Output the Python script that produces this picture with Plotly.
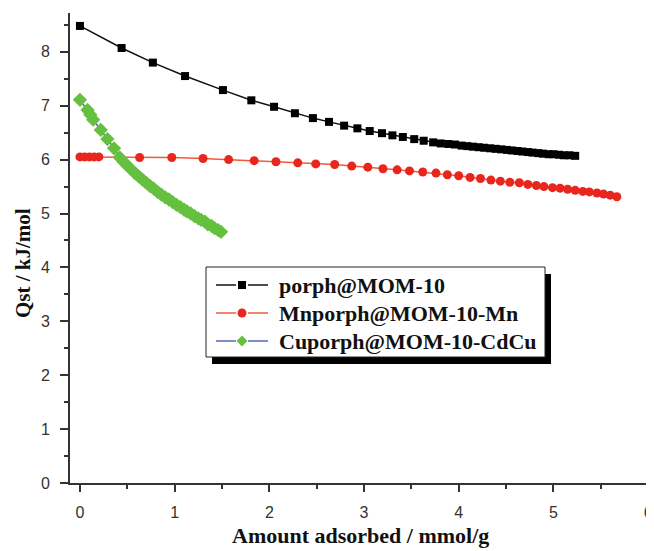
import plotly.graph_objects as go

# porph@MOM-10 (black squares)
porph_x = [0.00, 0.44, 0.77, 1.11, 1.51, 1.81, 2.05, 2.27, 2.46, 2.63, 2.79, 2.93, 3.06, 3.19,
           3.30, 3.41, 3.53, 3.63, 3.73, 3.81, 3.89, 3.96, 4.03, 4.09, 4.15, 4.21, 4.27, 4.33,
           4.39, 4.45, 4.51, 4.56, 4.62, 4.67, 4.73, 4.78, 4.84, 4.89, 4.95, 5.00, 5.06, 5.11,
           5.17, 5.23]
porph_y = [8.48, 8.07, 7.80, 7.55, 7.29, 7.10, 6.98, 6.86, 6.77, 6.70, 6.63, 6.58, 6.53, 6.49,
           6.45, 6.42, 6.38, 6.35, 6.32, 6.30, 6.29, 6.28, 6.26, 6.25, 6.24, 6.23, 6.22, 6.21,
           6.20, 6.19, 6.18, 6.17, 6.16, 6.15, 6.14, 6.13, 6.12, 6.11, 6.10, 6.10, 6.09, 6.08,
           6.08, 6.07]

# Mnporph@MOM-10-Mn (red circles)
mn_x = [0.00, 0.05, 0.10, 0.15, 0.20, 0.63, 0.97, 1.30, 1.57, 1.84, 2.07, 2.30, 2.49, 2.69,
        2.87, 3.04, 3.20, 3.35, 3.48, 3.62, 3.76, 3.88, 4.00, 4.12, 4.23, 4.34, 4.44, 4.54,
        4.64, 4.73, 4.82, 4.90, 4.99, 5.07, 5.15, 5.23, 5.31, 5.38, 5.46, 5.53, 5.60, 5.67]
mn_y = [6.05, 6.05, 6.05, 6.05, 6.05, 6.04, 6.04, 6.02, 6.00, 5.98, 5.96, 5.94, 5.92, 5.91,
        5.88, 5.86, 5.83, 5.81, 5.79, 5.77, 5.75, 5.72, 5.70, 5.67, 5.65, 5.62, 5.60, 5.58,
        5.57, 5.54, 5.52, 5.50, 5.48, 5.47, 5.45, 5.43, 5.41, 5.40, 5.38, 5.36, 5.34, 5.31]

# Cuporph@MOM-10-CdCu (green diamonds)
cu_x = [0.00, 0.08, 0.11, 0.14, 0.22, 0.29, 0.36, 0.42, 0.46, 0.50, 0.54, 0.58, 0.62, 0.66,
        0.70, 0.74, 0.78, 0.82, 0.86, 0.90, 0.94, 0.98, 1.02, 1.06, 1.10, 1.13, 1.17, 1.21,
        1.25, 1.28, 1.32, 1.35, 1.39, 1.42, 1.46, 1.49]
cu_y = [7.11, 6.92, 6.83, 6.74, 6.55, 6.38, 6.21, 6.04, 5.96, 5.89, 5.82, 5.75, 5.69, 5.63,
        5.57, 5.51, 5.46, 5.40, 5.35, 5.30, 5.26, 5.21, 5.16, 5.12, 5.07, 5.04, 5.00, 4.95,
        4.91, 4.88, 4.85, 4.80, 4.77, 4.73, 4.69, 4.66]

names = ["porph@MOM-10", "Mnporph@MOM-10-Mn", "Cuporph@MOM-10-CdCu"]
x_ticks = [0, 1, 2, 3, 4, 5, 6]
y_ticks = [0, 1, 2, 3, 4, 5, 6, 7, 8]

# styles
line_colors = ["#111111", "#f05a3a", "#5a64c0"]
marker_colors = ["#000000", "#e8261e", "#66c040"]
marker_symbols = ["square", "circle", "diamond"]
marker_sizes = [8, 9, 11]

fig = go.Figure()
series = [(porph_x, porph_y), (mn_x, mn_y), (cu_x, cu_y)]
for i, (xs, ys) in enumerate(series):
    fig.add_trace(go.Scatter(x=xs, y=ys, mode="lines+markers", name=names[i],
                             showlegend=False,
                             line=dict(color=line_colors[i], width=1.5),
                             marker=dict(symbol=marker_symbols[i], size=marker_sizes[i],
                                         color=marker_colors[i])))

SERIF = "Liberation Serif"
axis_font = dict(family="Liberation Sans", size=16, color="#333333")

# Plot area on screen: x 70..650, y 13..483 (page body adds 8 px offset)
PX0, PX1, PY0, PY1 = 70.0, 650.0, 13.0, 483.0


def px(sx):
    return (sx - PX0) / (PX1 - PX0)


def py(sy):
    return (PY1 - sy) / (PY1 - PY0)


# framed legend with drop shadow (Origin style)
box = (206, 267, 545, 357)
shadow_off = (6, 7)
row_y = [285, 313, 341]
seg = [(216, 236), (248, 268)]
sym_x = 242
text_x = 277

shapes = [
    dict(type="rect", xref="paper", yref="paper",
         x0=px(box[0] + shadow_off[0]), x1=px(box[2] + shadow_off[0]),
         y0=py(box[3] + shadow_off[1]), y1=py(box[1] + shadow_off[1]),
         fillcolor="black", line=dict(width=0), layer="above"),
    dict(type="rect", xref="paper", yref="paper",
         x0=px(box[0]), x1=px(box[2]), y0=py(box[3]), y1=py(box[1]),
         fillcolor="white", line=dict(color="#222222", width=1), layer="above"),
]
annotations = []
for i, ry in enumerate(row_y):
    for a, b in seg:
        shapes.append(dict(type="line", xref="paper", yref="paper",
                           x0=px(a), x1=px(b), y0=py(ry), y1=py(ry),
                           line=dict(color=line_colors[i], width=1.5), layer="above"))
    h = marker_sizes[i] / 2.0
    if marker_symbols[i] == "square":
        shapes.append(dict(type="rect", xref="paper", yref="paper",
                           x0=px(sym_x - h), x1=px(sym_x + h), y0=py(ry + h), y1=py(ry - h),
                           fillcolor=marker_colors[i], line=dict(width=0), layer="above"))
    elif marker_symbols[i] == "circle":
        shapes.append(dict(type="circle", xref="paper", yref="paper",
                           x0=px(sym_x - h), x1=px(sym_x + h), y0=py(ry + h), y1=py(ry - h),
                           fillcolor=marker_colors[i], line=dict(width=0), layer="above"))
    else:
        path = "M{},{} L{},{} L{},{} L{},{} Z".format(
            px(sym_x), py(ry - h), px(sym_x + h), py(ry),
            px(sym_x), py(ry + h), px(sym_x - h), py(ry))
        shapes.append(dict(type="path", xref="paper", yref="paper", path=path,
                           fillcolor=marker_colors[i], line=dict(width=0), layer="above"))
    annotations.append(dict(text=names[i], xref="paper", yref="paper",
                            x=px(text_x), y=py(ry), xanchor="left", yanchor="middle",
                            showarrow=False,
                            font=dict(family=SERIF, size=22, color="#111111", weight="bold")))

annotations += [
    dict(text="Amount adsorbed / mmol/g", xref="paper", yref="paper",
         x=px(360), y=py(535), xanchor="center", yanchor="middle", showarrow=False,
         font=dict(family=SERIF, size=22, color="#111111", weight="bold")),
    dict(text="Qst / kJ/mol", xref="paper", yref="paper",
         x=px(22.5), y=py(263.5), xanchor="center", yanchor="middle", showarrow=False,
         textangle=-90, font=dict(family=SERIF, size=21, color="#111111", weight="bold")),
]

fig.update_layout(
    width=646, height=543,
    margin=dict(l=62, r=4, t=5, b=68, autoexpand=False),
    paper_bgcolor="white", plot_bgcolor="white",
    showlegend=False,
    xaxis=dict(range=[-0.105, 6.02], tickvals=x_ticks, ticks="outside", ticklen=7,
               tickwidth=1.5, tickcolor="#333333", showline=True, linecolor="#333333",
               linewidth=2, showgrid=False, zeroline=False, tickfont=axis_font,
               ticklabelstandoff=7, automargin=False, ticklabeloverflow="allow",
               minor=dict(dtick=0.5, tick0=0, ticks="outside", ticklen=4, tickwidth=1.5,
                          tickcolor="#333333", showgrid=False)),
    yaxis=dict(range=[0, 8.72], tickvals=y_ticks, ticks="outside", ticklen=8,
               tickwidth=1.5, tickcolor="#333333", showline=True, linecolor="#333333",
               linewidth=2, showgrid=False, zeroline=False, tickfont=axis_font,
               ticklabelstandoff=7, automargin=False,
               minor=dict(dtick=0.5, tick0=0, ticks="outside", ticklen=4, tickwidth=1.5,
                          tickcolor="#333333", showgrid=False)),
    annotations=annotations,
    shapes=shapes,
)

fig.write_html("out.html")
